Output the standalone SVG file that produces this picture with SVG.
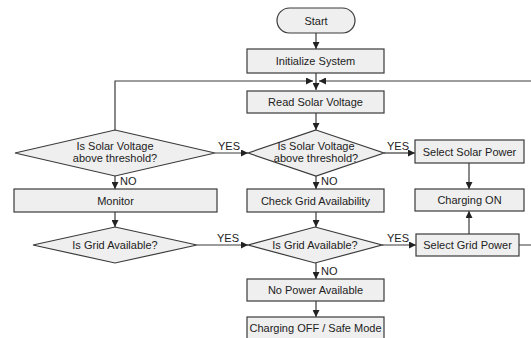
<svg xmlns="http://www.w3.org/2000/svg" width="531" height="338" viewBox="0 0 531 338">
<defs>
<style>
.n{fill:#efefef;stroke:#3a3a3a;stroke-width:1.2}
.t{font-family:"Liberation Sans",Arial,sans-serif;font-size:11px;fill:#222;text-anchor:middle}
.l{font-family:"Liberation Sans",Arial,sans-serif;font-size:11px;fill:#222}
.c{fill:none;stroke:#3a3a3a;stroke-width:1.2}
</style>
<marker id="a" viewBox="0 0 10 10" refX="10" refY="5" markerWidth="7" markerHeight="7" markerUnits="userSpaceOnUse" orient="auto">
<path d="M0,0 L10,5 L0,10 Z" fill="#222"/>
</marker>
</defs>
<rect width="531" height="338" fill="#ffffff"/>
<g id="connectors">
<path class="c" d="M316,33 V49" marker-end="url(#a)"/>
<path class="c" d="M316,73 V90" marker-end="url(#a)"/>
<path class="c" d="M115,130 V81 H313" marker-end="url(#a)"/>
<path class="c" d="M519,245 H531 M531,81 H319" marker-end="url(#a)"/>
<path class="c" d="M316,113 V130" marker-end="url(#a)"/>
<path class="c" d="M215,153 H248" marker-end="url(#a)"/>
<path class="c" d="M384,153 H415" marker-end="url(#a)"/>
<path class="c" d="M115,176 V189" marker-end="url(#a)"/>
<path class="c" d="M316,176 V189" marker-end="url(#a)"/>
<path class="c" d="M469,163 V189" marker-end="url(#a)"/>
<path class="c" d="M115,212 V227" marker-end="url(#a)"/>
<path class="c" d="M316,212 V227" marker-end="url(#a)"/>
<path class="c" d="M197,245 H248" marker-end="url(#a)"/>
<path class="c" d="M382,245 H416" marker-end="url(#a)"/>
<path class="c" d="M469,234 V211" marker-end="url(#a)"/>
<path class="c" d="M316,263 V279" marker-end="url(#a)"/>
<path class="c" d="M316,301 V317" marker-end="url(#a)"/>
<text class="l" x="218" y="150">YES</text>
<text class="l" x="387" y="150">YES</text>
<text class="l" x="120" y="185">NO</text>
<text class="l" x="321" y="185">NO</text>
<text class="l" x="217" y="242">YES</text>
<text class="l" x="387" y="242">YES</text>
<text class="l" x="321" y="275">NO</text>
</g>
<g id="start"><rect class="n" x="277" y="8" width="78" height="25" rx="12.5"/><text class="t" x="316" y="24.5">Start</text></g>
<g id="init"><rect class="n" x="247" y="49" width="137" height="24"/><text class="t" x="315.5" y="65">Initialize System</text></g>
<g id="read"><rect class="n" x="247" y="91" width="137" height="22"/><text class="t" x="315.5" y="106">Read Solar Voltage</text></g>
<g id="dec-solar-left"><polygon class="n" points="115,130 215,153 115,176 15,153"/><text class="t" x="115" y="150">Is Solar Voltage</text><text class="t" x="115" y="162">above threshold?</text></g>
<g id="dec-solar"><polygon class="n" points="316,130 384,153 316,176 248,153"/><text class="t" x="316" y="150">Is Solar Voltage</text><text class="t" x="316" y="162">above threshold?</text></g>
<g id="sel-solar"><rect class="n" x="415" y="140" width="109" height="23"/><text class="t" x="469.5" y="155.5">Select Solar Power</text></g>
<g id="monitor"><rect class="n" x="14" y="189" width="203" height="23"/><text class="t" x="115.5" y="204.5">Monitor</text></g>
<g id="check-grid"><rect class="n" x="247" y="189" width="137" height="23"/><text class="t" x="315.5" y="204.5">Check Grid Availability</text></g>
<g id="charging-on"><rect class="n" x="415" y="189" width="109" height="22"/><text class="t" x="469.5" y="204">Charging ON</text></g>
<g id="dec-grid-left"><polygon class="n" points="115,227 197,245 115,263 33,245"/><text class="t" x="115" y="249">Is Grid Available?</text></g>
<g id="dec-grid"><polygon class="n" points="315,227 382,245 315,263 248,245"/><text class="t" x="315" y="249">Is Grid Available?</text></g>
<g id="sel-grid"><rect class="n" x="416" y="234" width="103" height="22"/><text class="t" x="467.5" y="249">Select Grid Power</text></g>
<g id="no-power"><rect class="n" x="247" y="279" width="137" height="22"/><text class="t" x="315.5" y="294">No Power Available</text></g>
<g id="charging-off"><rect class="n" x="247" y="317" width="137" height="23"/><text class="t" x="315.5" y="332">Charging OFF / Safe Mode</text></g>
</svg>
